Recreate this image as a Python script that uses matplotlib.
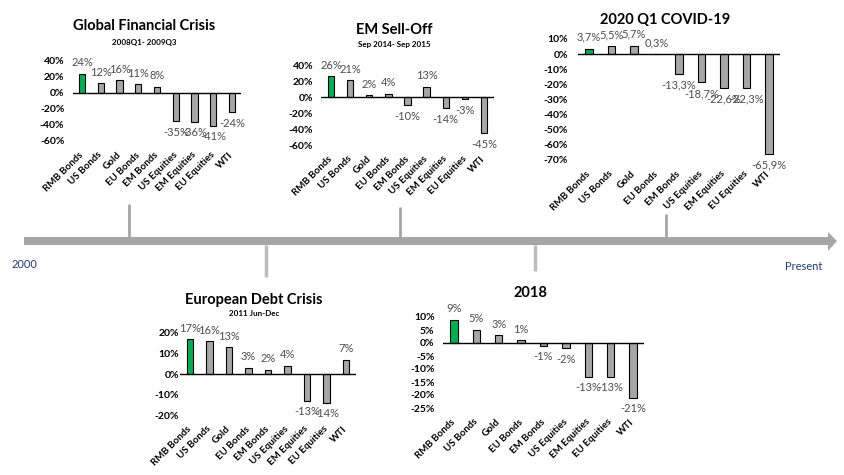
import numpy as np
import matplotlib
matplotlib.use("Agg")
import matplotlib.pyplot as plt
from matplotlib.patches import Polygon

plt.rcParams['font.family'] = ['Lato', 'DejaVu Sans']

W, H = 845, 475

assets = ["RMB Bonds", "US Bonds", "Gold", "EU Bonds", "EM Bonds",
          "US Equities", "EM Equities", "EU Equities", "WTI"]

gfc_returns = [24, 12, 16, 11, 8, -35, -36, -41, -24]
em_returns = [26, 21, 2, 4, -10, 13, -14, -3, -45]
covid_returns = [3.7, 5.5, 5.7, 0.3, -13.3, -18.7, -22.6, -22.3, -65.9]
euro_returns = [17, 16, 13, 3, 2, 4, -13, -14, 7]
y2018_returns = [9, 5, 3, 1, -1, -2, -13, -13, -21]

gfc_ticks = [40, 20, 0, -20, -40, -60]
em_ticks = [40, 20, 0, -20, -40, -60]
covid_ticks = [10, 0, -10, -20, -30, -40, -50, -60, -70]
euro_ticks = [20, 10, 0, -10, -20]
y2018_ticks = [10, 5, 0, -5, -10, -15, -20, -25]

# panel boxes in pixels: first bar x, last bar x, top tick y, bottom tick y
panels = [
    dict(title="Global Financial Crisis", sub="2008Q1- 2009Q3", vals=gfc_returns,
         ticks=gfc_ticks, box=(82, 232, 61, 141), tx=144, ty=26, sy=42, pad=6, dec=False),
    dict(title="EM Sell-Off", sub="Sep 2014- Sep 2015", vals=em_returns,
         ticks=em_ticks, box=(331, 484, 65, 145), tx=394, ty=30, sy=44, pad=6, dec=False),
    dict(title="2020 Q1 COVID-19", sub=None, vals=covid_returns,
         ticks=covid_ticks, box=(589, 769, 39, 160), tx=665, ty=20, sy=None, pad=7, dec=True),
    dict(title="European Debt Crisis", sub="2011 Jun-Dec", vals=euro_returns,
         ticks=euro_ticks, box=(190, 346, 333, 415), tx=254, ty=300, sy=314, pad=1, dec=False),
    dict(title="2018", sub=None, vals=y2018_returns,
         ticks=y2018_ticks, box=(454, 633, 317, 408), tx=530, ty=293, sy=None, pad=6, dec=False),
]

fig = plt.figure(figsize=(W / 100, H / 100), dpi=100)

# background layer in pixel coordinates for the timeline
bg = fig.add_axes([0, 0, 1, 1])
bg.set_xlim(0, W)
bg.set_ylim(H, 0)
bg.axis('off')

arrow = Polygon([(24, 237), (828, 237), (828, 232), (837, 241), (828, 251),
                 (828, 245), (24, 245)], closed=True, facecolor='#a6a6a6',
                edgecolor='none')
bg.add_patch(arrow)
for x, y0, y1 in [(129, 204, 237), (400, 207, 237), (666, 214, 237)]:
    bg.plot([x, x], [y0, y1], color='#a6a6a6', lw=2, solid_capstyle='butt')
for x, y0, y1 in [(266, 245, 277), (535, 245, 271)]:
    bg.plot([x, x], [y0, y1], color='#bcbcbc', lw=2.5, solid_capstyle='butt')
bg.text(12, 264, "2000", color='#1f3c7a', fontsize=8, va='center', ha='left')
bg.text(822, 266, "Present", color='#1f3c7a', fontsize=8, va='center', ha='right')

x = np.arange(len(assets))
for p in panels:
    x0, x1, ytop, ybot = p['box']
    dx = (x1 - x0) / (len(assets) - 1)
    left = x0 - 0.5 * dx
    right = x1 + 0.5 * dx
    ax = fig.add_axes([left / W, 1 - ybot / H, (right - left) / W, (ybot - ytop) / H])
    ax.set_facecolor('none')
    colors = ['#00b050'] + ['#a6a6a6'] * (len(assets) - 1)
    ax.bar(x, p['vals'], width=0.33, color=colors, edgecolor='black', linewidth=0.8, zorder=2)
    ax.axhline(0, color='black', lw=1, zorder=3)
    ax.set_xlim(-0.5, len(assets) - 0.5)
    ax.set_ylim(min(p['ticks']), max(p['ticks']))
    ax.set_yticks(p['ticks'])
    ax.set_yticklabels([f"{t}%" for t in p['ticks']], fontsize=7.5, fontweight='bold')
    ax.tick_params(axis='y', length=0, pad=p['pad'])
    ax.set_xticks(x)
    ax.set_xticklabels(assets, rotation=45, ha='right', va='center',
                       rotation_mode='anchor', fontsize=7, fontweight='bold')
    ax.tick_params(axis='x', length=0, pad=9)
    for s in ax.spines.values():
        s.set_visible(False)
    for i, v in enumerate(p['vals']):
        if p['dec']:
            lab = f"{v:.1f}%".replace('.', ',')
        else:
            lab = f"{v:.0f}%"
        off = 8 if v >= 0 else -8
        ax.annotate(lab, (i, v), xytext=(0, off), textcoords='offset points',
                    ha='center', va='center', fontsize=8, color='#4d4d4d',
                    annotation_clip=False)
    fig.text(p['tx'] / W, 1 - p['ty'] / H, p['title'], ha='center', va='center',
             fontsize=10.5, fontweight='bold')
    if p['sub']:
        fig.text(p['tx'] / W, 1 - p['sy'] / H, p['sub'], ha='center', va='center',
                 fontsize=5.8, fontweight='bold')

fig.savefig("out.png", dpi=100)
